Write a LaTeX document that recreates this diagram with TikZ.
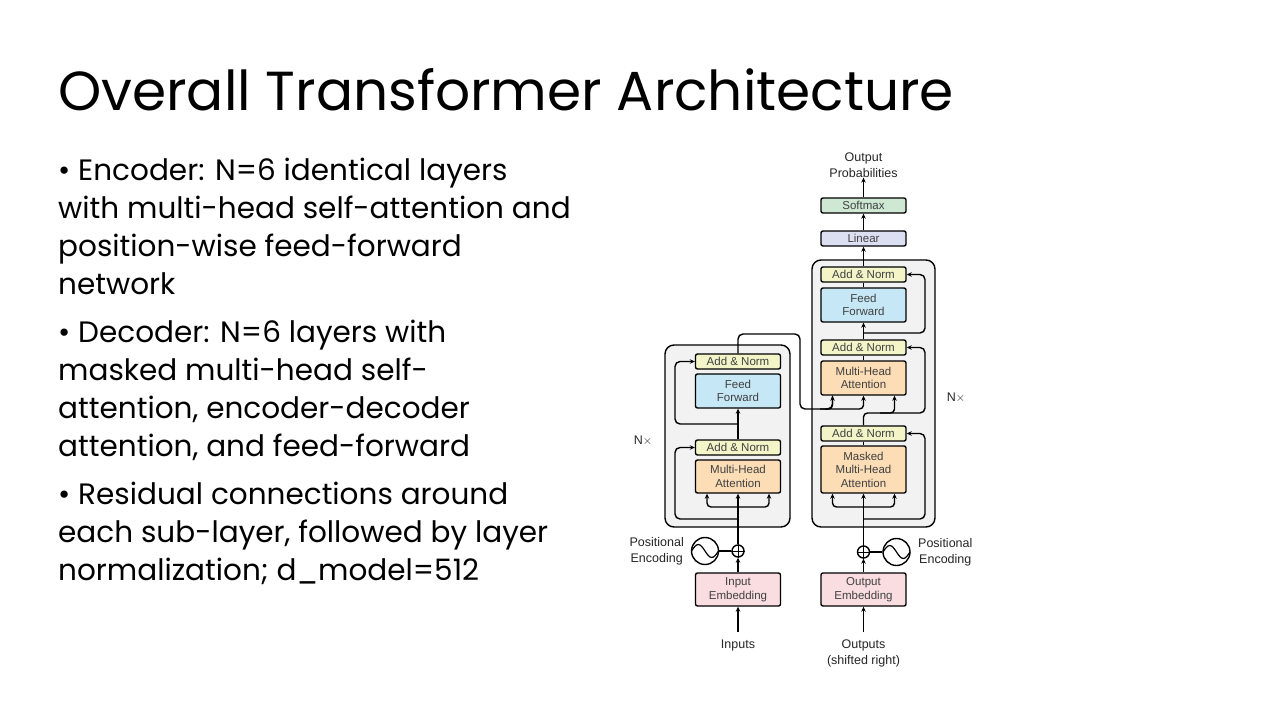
\documentclass[tikz,border=0pt]{standalone}
\usepackage{fontspec}
\setmainfont{Poppins}
\newfontfamily\dfont{Liberation Sans}
\usetikzlibrary{arrows.meta}
\definecolor{cAN}{HTML}{F3F5C8}
\definecolor{cFF}{HTML}{C6E7F5}
\definecolor{cMH}{HTML}{FCDDB6}
\definecolor{cEM}{HTML}{F9DDE1}
\definecolor{cSM}{HTML}{CFE8D3}
\definecolor{cLN}{HTML}{DCDFF1}
\definecolor{cFR}{HTML}{F2F2F2}
\tikzset{
 blk/.style={draw, line width=1.4pt, rounded corners=2pt, minimum width=85pt, inner sep=0pt, align=center, text=black!75, font=\dfont\fontsize{11.5}{13.5}\selectfont},
 frm/.style={draw, line width=1.4pt, rounded corners=9pt, fill=cFR},
 ln/.style={line width=1.4pt},
 arr/.style={line width=1.4pt, -{Stealth[length=5pt,width=4.5pt]}},
 lab/.style={font=\dfont\fontsize{12.5}{16}\selectfont, text=black!85, align=center, inner sep=0pt},
 btxt/.style={anchor=north west, inner sep=0pt, align=left, font=\fontsize{29.5}{38}\selectfont}
}
\begin{document}
\begin{tikzpicture}[x=1pt,y=-1pt]
\useasboundingbox[fill=white] (0,0) rectangle (1280,720);
\node[anchor=base west, inner sep=0pt, font=\fontsize{55}{60}\selectfont] (title) at (58,110) {Overall Transformer Architecture};
\node[btxt] (b1) at (58,158) {\textbullet\ Encoder: N=6 identical layers\\with multi-head self-attention and\\position-wise feed-forward\\network};
\node[btxt] (b2) at (58,320) {\textbullet\ Decoder: N=6 layers with\\masked multi-head self-\\attention, encoder-decoder\\attention, and feed-forward};
\node[btxt] (b3) at (58,482) {\textbullet\ Residual connections around\\each sub-layer, followed by layer\\normalization; d\_model=512};
% frames
\draw[frm] (665,345) rectangle (790,527);
\draw[frm] (812,260) rectangle (935,527);
% encoder
\node[blk, fill=cAN, minimum height=15pt] (ean2) at (738,361.5) {Add \& Norm};
\node[blk, fill=cFF, minimum height=34pt] (eff) at (738,391) {Feed\\Forward};
\node[blk, fill=cAN, minimum height=15pt] (ean1) at (738,447.5) {Add \& Norm};
\node[blk, fill=cMH, minimum height=33pt] (emha) at (738,476.5) {Multi-Head\\Attention};
\node[blk, fill=cEM, minimum height=33pt] (iemb) at (738,589.5) {Input\\Embedding};
% decoder
\node[blk, fill=cSM, minimum height=15pt] (soft) at (863.5,205.5) {Softmax};
\node[blk, fill=cLN, minimum height=15pt] (lin) at (863.5,238.5) {Linear};
\node[blk, fill=cAN, minimum height=15pt] (dan3) at (863.5,274.5) {Add \& Norm};
\node[blk, fill=cFF, minimum height=34pt] (dff) at (863.5,305) {Feed\\Forward};
\node[blk, fill=cAN, minimum height=15pt] (dan2) at (863.5,347.5) {Add \& Norm};
\node[blk, fill=cMH, minimum height=34pt] (dmha) at (863.5,378) {Multi-Head\\Attention};
\node[blk, fill=cAN, minimum height=15pt] (dan1) at (863.5,433.5) {Add \& Norm};
\node[blk, fill=cMH, minimum height=47pt] (dmmha) at (863.5,469.5) {Masked\\Multi-Head\\Attention};
\node[blk, fill=cEM, minimum height=33pt] (oemb) at (863.5,589.5) {Output\\Embedding};
% labels
\node[lab] (outp) at (863.5,165) {Output\\Probabilities};
\node[lab] (inps) at (738,645) {Inputs};
\node[lab] (outs) at (863.5,653) {Outputs\\(shifted right)};
\node[lab] (nx1) at (643,441) {N$\times$};
\node[lab] (nx2) at (956,398) {N$\times$};
\node[lab, anchor=east] (pe1) at (684,551) {Positional\\Encoding};
\node[lab, anchor=west] (pe2) at (918,552) {Positional\\Encoding};
% positional encodings
\node[draw, circle, ln, minimum size=12pt, inner sep=0pt] (eplus) at (738,551) {};
\draw[line width=1pt] (eplus.north)--(eplus.south) (eplus.west)--(eplus.east);
\node[draw, circle, ln, minimum size=27pt, inner sep=0pt] (esin) at (705,551) {};
\draw[line width=1.2pt] (691.5,551) sin (698.25,544.5) cos (705,551) sin (711.75,557.5) cos (718.5,551);
\draw[ln] (esin) -- (eplus);
\node[draw, circle, ln, minimum size=12pt, inner sep=0pt] (dplus) at (863.5,552) {};
\draw[line width=1pt] (dplus.north)--(dplus.south) (dplus.west)--(dplus.east);
\node[draw, circle, ln, minimum size=27pt, inner sep=0pt] (dsin) at (896.5,552) {};
\draw[line width=1.2pt] (883,552) sin (889.75,545.5) cos (896.5,552) sin (903.25,558.5) cos (910,552);
\draw[ln] (dsin) -- (dplus);
% encoder connections
\draw[arr] (inps.north) ++(0,-7) coordinate (ib) -- (iemb.south);
\draw[arr] (iemb.north) -- (eplus.south);
\draw[arr] (eplus.north) -- (emha.south);
\draw[arr, rounded corners=4pt] (738,507) -| ([xshift=-31pt]emha.south);
\draw[arr, rounded corners=4pt] (738,507) -| ([xshift=31pt]emha.south);
\draw[arr, rounded corners=5pt] (738,519) -| (675,447.5) -- (ean1.west);
\draw[arr] (ean1.north) -- (eff.south);
\draw[arr, rounded corners=5pt] (738,424) -| (675,361.5) -- (ean2.west);
\draw[ln, rounded corners=5pt] (ean2.north) |- (800,334) -- (800,409) -| ([xshift=-31pt]dmha.south);
\draw[arr, rounded corners=4pt] (820,409) -| ([xshift=-31pt]dmha.south);
\draw[arr, rounded corners=4pt] (825,409) -| (dmha.south);
% decoder connections
\draw[arr] (outs.north) ++(0,-7) coordinate (ob) -- (oemb.south);
\draw[arr] (oemb.north) -- (dplus.south);
\draw[arr] (dplus.north) -- (dmmha.south);
\draw[arr, rounded corners=4pt] (863.5,507) -| ([xshift=-31pt]dmmha.south);
\draw[arr, rounded corners=4pt] (863.5,507) -| ([xshift=31pt]dmmha.south);
\draw[arr, rounded corners=5pt] (863.5,519) -| (925,433.5) -- (dan1.east);
\draw[ln] (dmmha.north) -- (dan1.south);
\draw[arr, rounded corners=4pt] (dan1.north) |- (880,413) -| ([xshift=31pt]dmha.south);
\draw[arr, rounded corners=5pt] (880,413) -| (925,347.5) -- (dan2.east);
\draw[ln] (dmha.north) -- (dan2.south);
\draw[arr] (dan2.north) -- (dff.south);
\draw[arr, rounded corners=5pt] (863.5,333) -| (925,274.5) -- (dan3.east);
\draw[ln] (dff.north) -- (dan3.south);
\draw[arr] (dan3.north) -- (lin.south);
\draw[arr] (lin.north) -- (soft.south);
\draw[arr] (soft.north) -- (outp.south);
\end{tikzpicture}
\end{document}
